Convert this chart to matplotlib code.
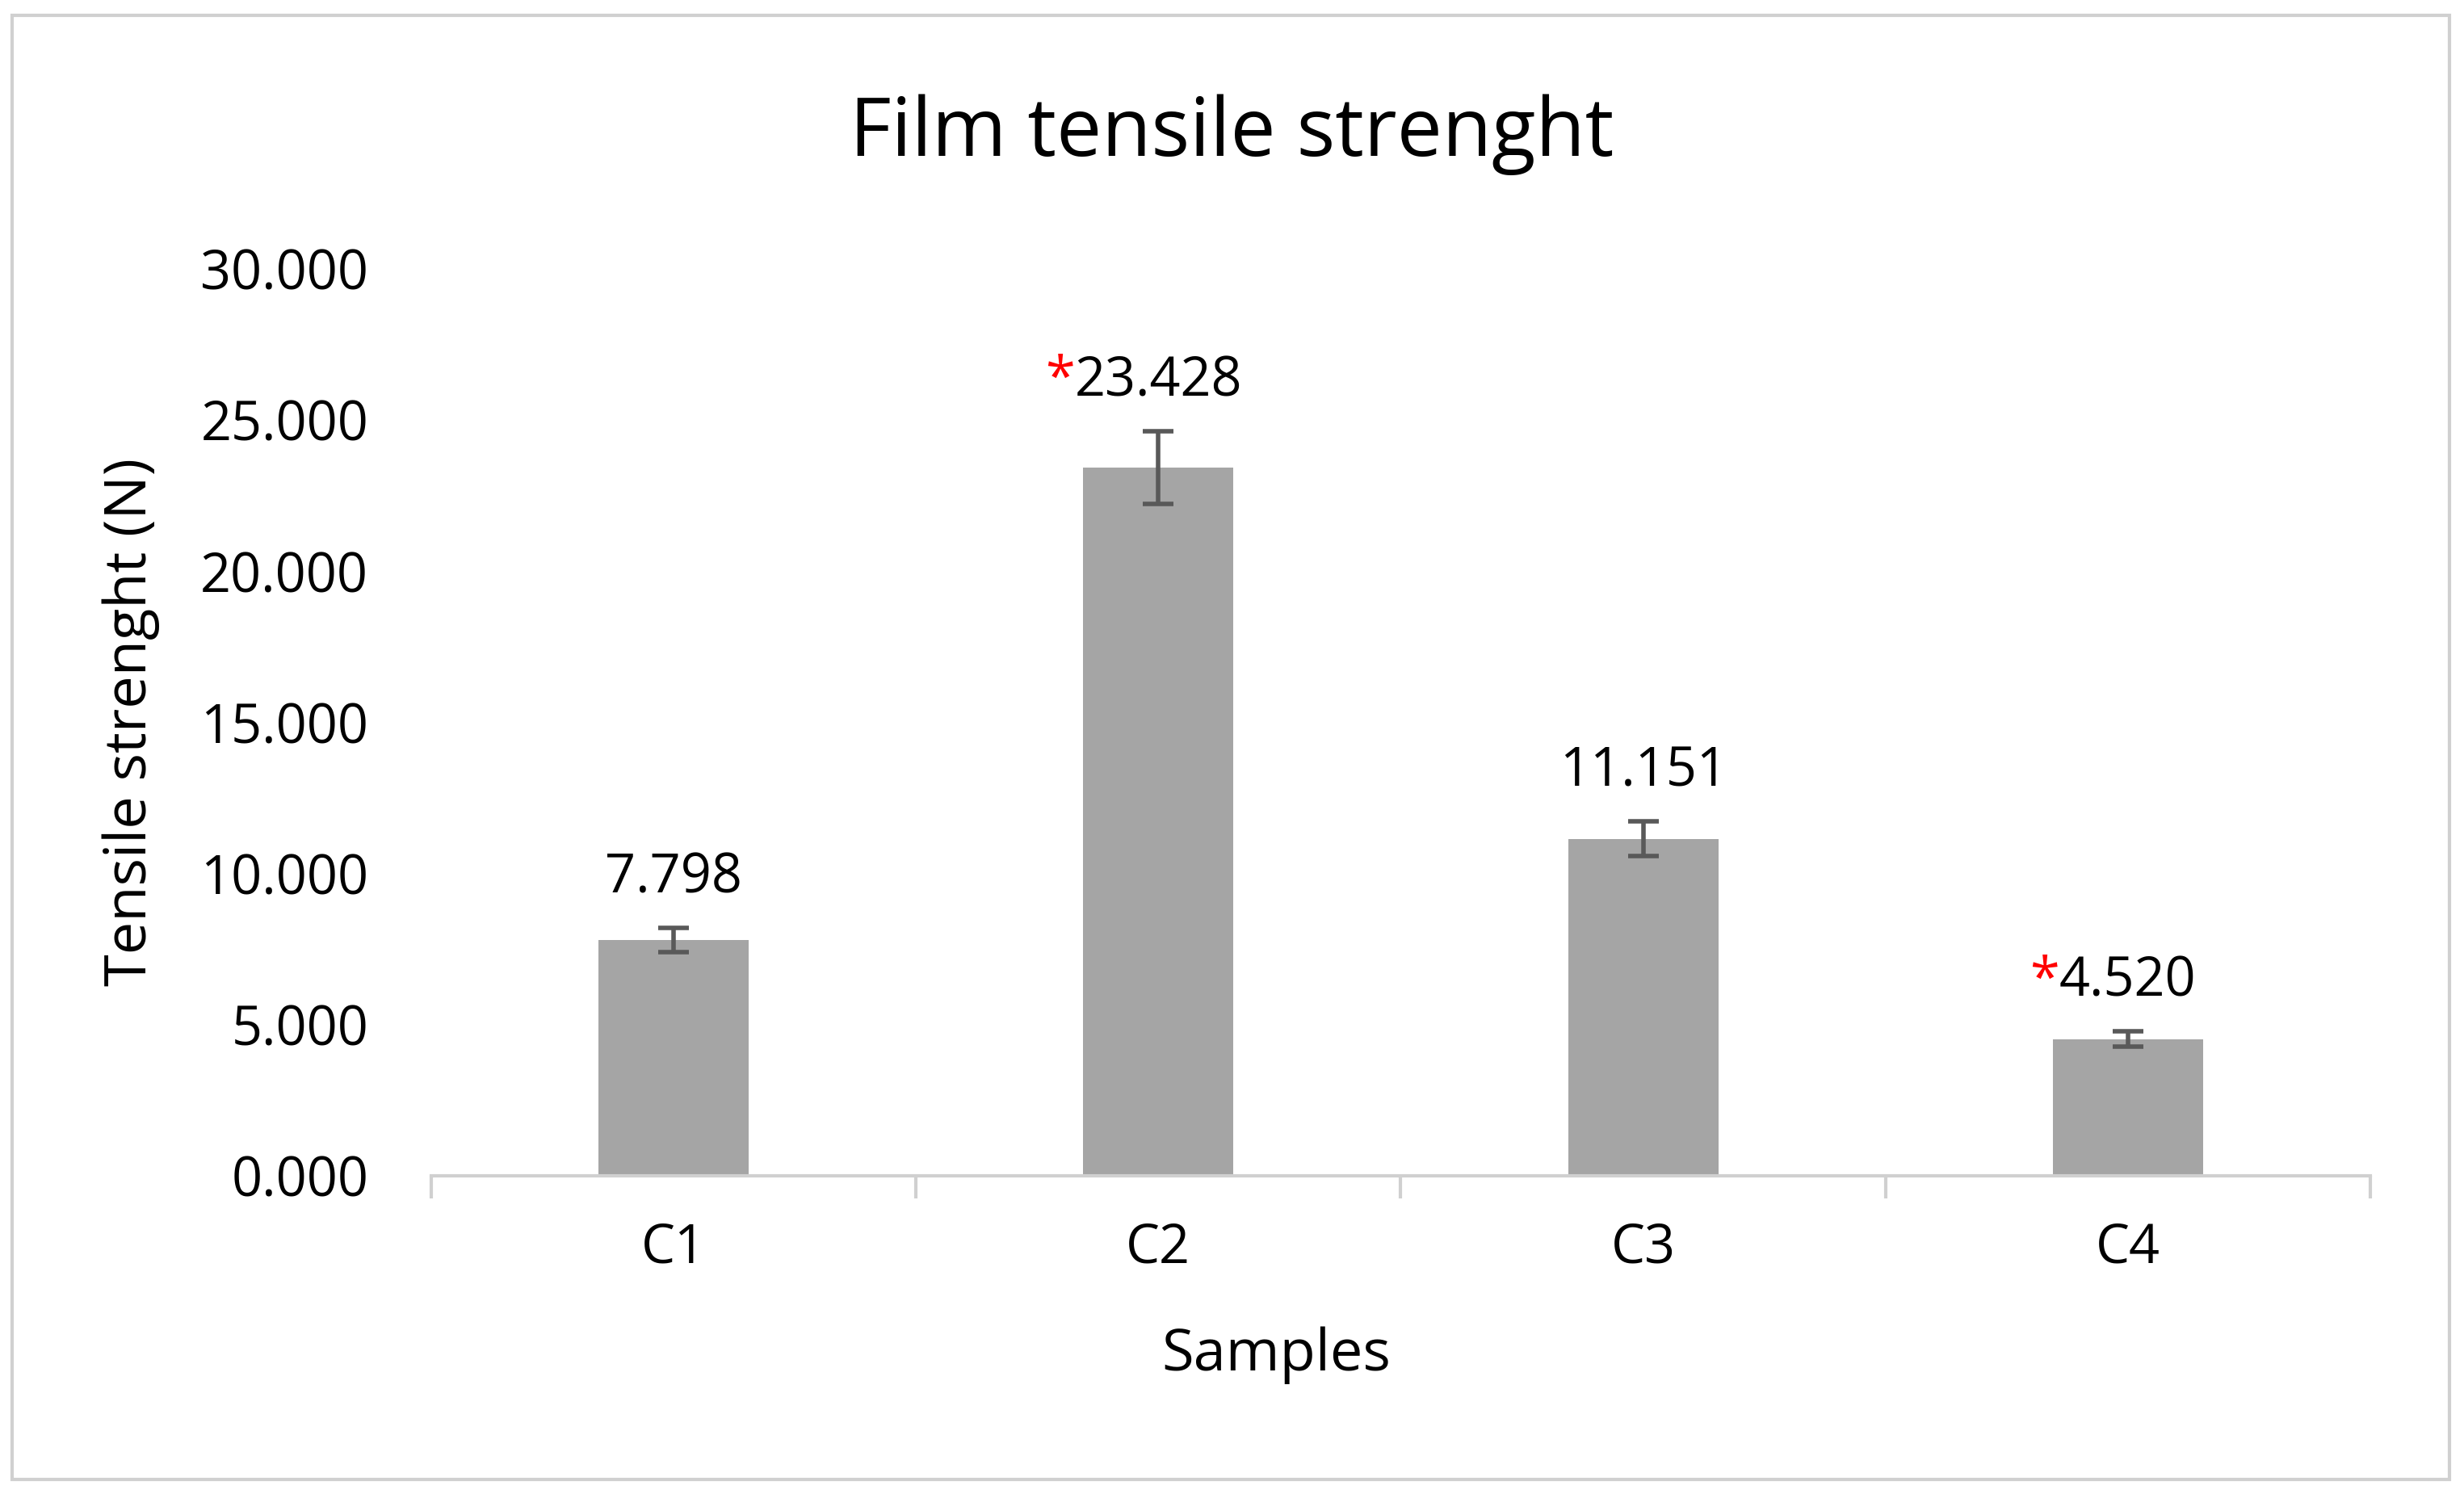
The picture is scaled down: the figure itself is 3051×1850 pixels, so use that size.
import matplotlib
matplotlib.use("Agg")
import matplotlib.pyplot as plt
from matplotlib.patches import Rectangle

samples = ["C1", "C2", "C3", "C4"]
values = [7.798, 23.428, 11.151, 4.520]
errors = [0.40, 1.20, 0.58, 0.25]
labels = ["7.798", "23.428", "11.151", "4.520"]
starred = [False, True, False, True]

plt.rcParams['font.family'] = ['Open Sans', 'DejaVu Sans']
fig = plt.figure(figsize=(15.255, 9.25), dpi=200)
fig.patches.append(Rectangle((0.005, 0.01), 0.989, 0.98, transform=fig.transFigure,
                             fill=False, edgecolor='#d0d0d0', linewidth=1.5))
ax = fig.add_axes([0.175, 0.213, 0.787, 0.607])
x = list(range(len(samples)))
ax.bar(x, values, width=0.31, color='#a5a5a5', zorder=2)
ax.errorbar(x, values, yerr=errors, fmt='none', ecolor='#595959', elinewidth=2,
            capsize=7, capthick=2, zorder=3)
ax.set_xlim(-0.5, 3.5)
ax.set_ylim(0, 30)
ax.set_yticks(range(0, 31, 5))
ax.set_yticklabels([f"{v}.000" for v in range(0, 31, 5)], fontsize=24)
ax.set_xticks(x)
ax.set_xticklabels(samples, fontsize=24)
ax.tick_params(axis='x', length=0, pad=20)
ax.tick_params(axis='y', length=0, pad=28)
ax.set_xticks([-0.5, 0.5, 1.5, 2.5, 3.5], minor=True)
ax.tick_params(axis='x', which='minor', length=10, color='#d0d0d0', width=1.5)
for s in ['top', 'right', 'left']:
    ax.spines[s].set_visible(False)
ax.spines['bottom'].set_color('#d0d0d0')
ax.spines['bottom'].set_linewidth(1.5)
ax.set_ylabel("Tensile strenght (N)", fontsize=26, labelpad=18)
fig.text(0.518, 0.093, "Samples", ha='center', va='center', fontsize=26)
fig.text(0.5, 0.91, "Film tensile strenght", ha='center', va='center', fontsize=36)

fig.canvas.draw()
r = fig.canvas.get_renderer()
for xi, v, e, lab, st in zip(x, values, errors, labels, starred):
    t = ax.annotate(lab, (xi, v + e), xytext=(0, 10), textcoords='offset points',
                    ha='center', va='bottom', fontsize=24)
    if st:
        bb = t.get_window_extent(r)
        fig.text(bb.x0, bb.y0, "*", color='red', fontsize=24, ha='right', va='bottom',
                 transform=None)
fig.savefig("out.png", dpi=200)
